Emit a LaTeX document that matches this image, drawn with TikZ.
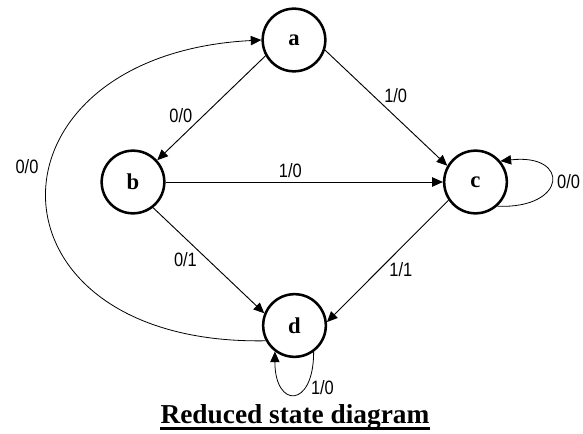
\documentclass[tikz,border=0pt]{standalone}
\usepackage{fontspec}
\setmainfont{Liberation Serif}
\newfontfamily\edgefont[FakeStretch=0.85]{Liberation Sans}
\usetikzlibrary{arrows.meta}

\begin{document}
\begin{tikzpicture}[
  x=0.75pt, y=0.75pt,
  >={Triangle[length=8pt,width=7pt]},
  %% State and edge styles
  state/.style = {draw, circle, line width=1.9pt, minimum size=47pt,
                  inner sep=0pt, font=\fontsize{17}{20}\selectfont\bfseries},
  trans/.style = {->, line width=0.7pt},
  loopy/.style = {->, line width=0.6pt},
  lbl/.style   = {font=\edgefont\fontsize{14.5}{17}\selectfont, inner sep=1pt},
  ttl/.style   = {font=\fontsize{20.5}{24}\selectfont\bfseries, inner sep=0pt},
]
\useasboundingbox (0,0) rectangle (583,433);

%% ── States ─────────────────────────────────────────────────────
\node[state] (a) at (294,393)   {a};
\node[state] (b) at (133,251)   {b};
\node[state] (c) at (475.5,251) {c};
\node[state] (d) at (294.5,107.5) {d};

%% ── Transitions between states ─────────────────────────────────
\draw[trans] (a.209) -- (b.42)   node[lbl, pos=0.66, above left]  {0/0};
\draw[trans] (a.342) -- (c.150)  node[lbl, pos=0.47, above right] {1/0};
\draw[trans] (b.east) -- (c.west) node[lbl, pos=0.45, above=2pt]  {1/0};
\draw[trans] (b.308) -- (d.158)  node[lbl, pos=0.41, below left]  {0/1};
\draw[trans] (c.214) -- (d.6)    node[lbl, pos=0.5, below right]  {1/1};

%% ── Return arc d -> a ──────────────────────────────────────────
\draw[loopy] (d.208) .. controls +(-291,-5) and +(-287,-15) .. (a.west)
  node[lbl, pos=0.57, left=8pt] {0/0};

%% ── Self loops ─────────────────────────────────────────────────
\draw[loopy] (c.-48) .. controls +(70,-3) and +(70,8) .. (c.40)
  node[lbl, pos=0.5, right=3pt] {0/0};
\draw[loopy] (d.-54) .. controls +(0,-57) and +(0,-57) .. (d.233)
  node[lbl, pos=0.3, right=3pt] {1/0};

%% ── Caption ────────────────────────────────────────────────────
\node[ttl, anchor=base] (title) at (295,10) {Reduced state diagram};
\draw[line width=1.8pt] ([yshift=-4.1pt]title.base west) -- ([yshift=-4.1pt]title.base east);

\end{tikzpicture}
\end{document}
